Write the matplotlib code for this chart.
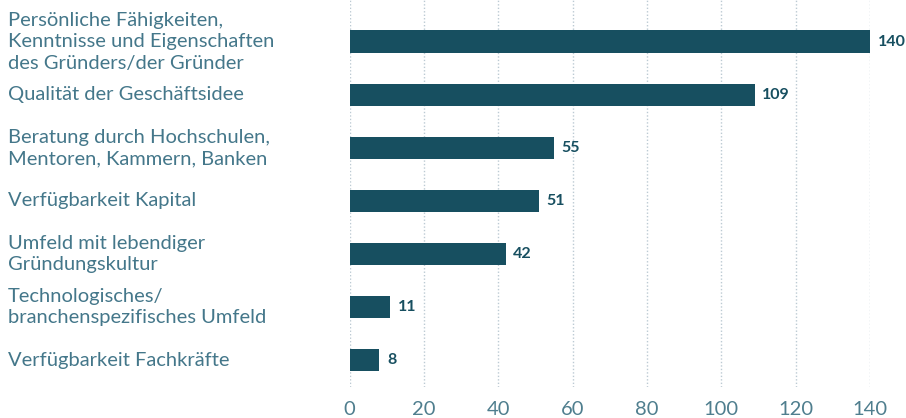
import matplotlib.pyplot as plt
from matplotlib import transforms

# Erfolgsfaktoren und Anzahl Nennungen
faktoren = [
    "Persönliche Fähigkeiten,\nKenntnisse und Eigenschaften\ndes Gründers/der Gründer",
    "Qualität der Geschäftsidee",
    "Beratung durch Hochschulen,\nMentoren, Kammern, Banken",
    "Verfügbarkeit Kapital",
    "Umfeld mit lebendiger\nGründungskultur",
    "Technologisches/\nbranchenspezifisches Umfeld",
    "Verfügbarkeit Fachkräfte",
]
nennungen = [140, 109, 55, 51, 42, 11, 8]
xticks = [0, 20, 40, 60, 80, 100, 120, 140]

balken_farbe = "#174f60"
text_farbe = "#44778a"
tick_farbe = "#4f7e8e"
gitter_farbe = "#bccad3"

plt.rcParams["font.family"] = ["Lato", "DejaVu Sans"]

fig = plt.figure(figsize=(9.06, 4.18), dpi=100)
ax = fig.add_axes([0.3858, 0.074, 0.5745, 0.926])

pos = list(range(len(faktoren)))
ax.barh(pos, nennungen, height=0.43, color=balken_farbe, zorder=3)

ax.set_xlim(0, 140)
ax.set_ylim(6.51, -0.79)

# Werte rechts neben den Balken
for y, v in zip(pos, nennungen):
    ax.annotate(str(v), (v, y), xytext=(5.5, 0), textcoords="offset points",
                ha="left", va="center", fontsize=11.5, fontweight="bold",
                color=balken_farbe, clip_on=False)

# Beschriftungen links, linksbündig
trans = transforms.blended_transform_factory(fig.transFigure, ax.transData)
for y, name in zip(pos, faktoren):
    ax.text(8 / 906, y, name, transform=trans, ha="left", va="center",
            fontsize=14.5, color=text_farbe, linespacing=1.3)

ax.set_yticks([])
ax.set_xticks(xticks)
ax.set_xticklabels([str(t) for t in xticks], fontsize=14.5, color=tick_farbe)
ax.tick_params(axis="x", length=0, pad=10)
ax.xaxis.grid(True, linestyle=(0, (1, 1.5)), color=gitter_farbe, linewidth=1, zorder=0)
for s in ax.spines.values():
    s.set_visible(False)

fig.savefig("out.png", dpi=100)
